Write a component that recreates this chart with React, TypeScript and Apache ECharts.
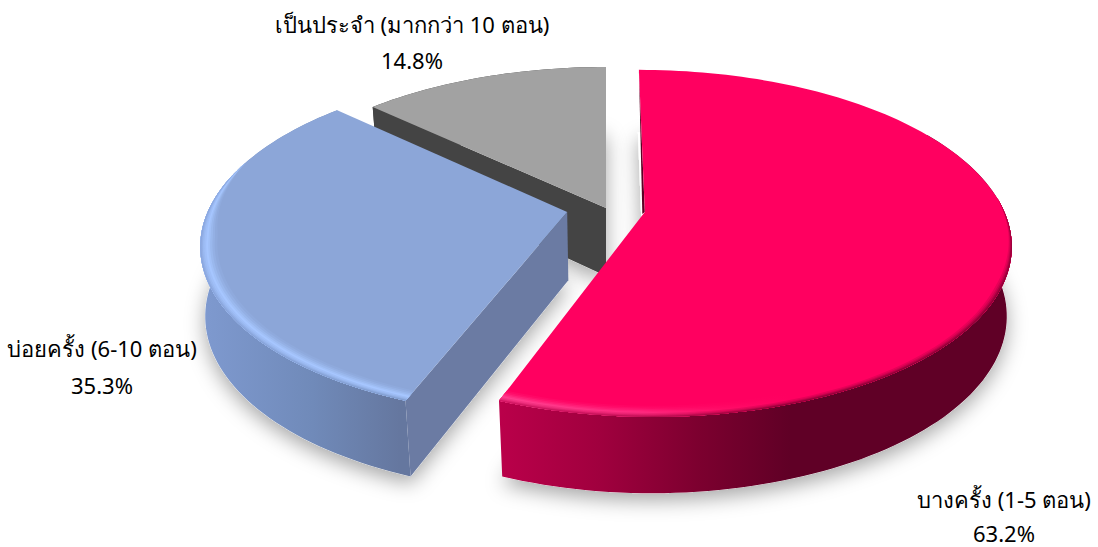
import React, { useEffect, useRef } from "react";
import * as echarts from "echarts";

const names = ["บางครั้ง (1-5 ตอน)", "บ่อยครั้ง (6-10 ตอน)", "เป็นประจำ (มากกว่า 10 ตอน)"];
const values = [63.2, 35.3, 14.8];

// --- layout of the perspective disk (not data) ---
const CX = 606, CY = 208, R = 358, RY = 166.4, K = 0.18;
const offsets = [[0.108, 0.024], [-0.108, 0.024], [0, 0]];
const labelPos = [[1004, 499, 533], [102, 348, 385], [412, 24, 60]];
const faceCol = ["#ff0060", "#8ca6d8", "#a2a2a2"];
const cutCol = ["#5c0024", "#6b7ba3", "#444444"];
const layer = [30, 20, 10];
const wallStops: [number, string][][] = [
  [[500, "#ba004a"], [600, "#a0003e"], [700, "#7c002f"], [790, "#600026"], [1011, "#600026"]],
  [[199, "#7f9ad0"], [313, "#708ab9"], [400, "#65779f"]],
  [[300, "#444444"], [606, "#444444"]],
];
const brightStops: [number, string][][] = [
  [[500, "#ff3f8f"], [640, "#ff2a80"], [720, "#ff0d68"], [790, "#ff0060"], [1011, "#ff0060"]],
  [[199, "#a6c6ff"], [400, "#a6c6ff"]],
  [[300, "#a2a2a2"], [606, "#a2a2a2"]],
];
const rimRange = [[85, 115], [288, 262], null];
const bandW = [0.045, 0.038, 0.032, 0.026, 0.021, 0.016, 0.011, 0.007, 0.0035];
const bandP = [0.12, 0.3, 0.55, 0.8, 1, 1.15, 1.3, 1.5, 1.7];

function project(u: number, v: number): number[] {
  const s = 1 / (1 - K * v);
  return [CX + R * u * s, CY + RY * v * s];
}
function rad(d: number) { return (d * Math.PI) / 180; }
function pointAt(i: number, deg: number, r: number) {
  const [ou, ov] = offsets[i];
  return project(ou + r * Math.sin(rad(deg)), ov - r * Math.cos(rad(deg)));
}
function arc(i: number, a: number, b: number, rf: (d: number) => number) {
  const n = Math.max(2, Math.ceil(Math.abs(b - a) / 1.5));
  const out: number[][] = [];
  for (let k = 0; k <= n; k++) {
    const d = a + ((b - a) * k) / n;
    out.push(pointAt(i, d, rf(d)));
  }
  return out;
}
function down(p: number[]) {
  const dx = p[0] - CX;
  const shift = Math.sign(dx) * Math.min(Math.abs(dx) * 0.03, 5);
  return [p[0] - shift, p[1] + 68 + (p[1] - CY) * 0.04];
}
function hex(c: string) { return [1, 3, 5].map((s) => parseInt(c.slice(s, s + 2), 16)); }
function mix(a: string, b: string, t: number) {
  const x = hex(a), y = hex(b);
  return "rgb(" + x.map((v, i) => Math.round(v + (y[i] - v) * t)).join(",") + ")";
}
function hgrad(stops: [number, string][]) {
  const x0 = stops[0][0], x1 = stops[stops.length - 1][0];
  return new (echarts.graphic as any).LinearGradient(
    x0, 0, x1, 0,
    stops.map(([x, c]) => ({ offset: (x - x0) / (x1 - x0), color: c })),
    true
  );
}

const total = values.reduce((a, b) => a + b, 0);

function renderItem(params: any) {
  const i = params.dataIndex;
  const before = values.slice(0, i).reduce((a, b) => a + b, 0);
  const a0 = (before / total) * 360;
  const a1 = ((before + values[i]) / total) * 360;
  const apex = pointAt(i, 0, 0);
  const outer = arc(i, a0, a1, () => 1);
  const z = layer[i];
  const children: any[] = [];

  // soft shadow cast by the underside
  children.push({
    type: "polygon", z2: 1,
    shape: { points: [down(apex), ...outer.map(down)] },
    style: { fill: "#ffffff", shadowBlur: 20, shadowColor: "rgba(0,0,0,0.35)", shadowOffsetY: 7 },
  });
  // curved wall (the back part of the first slice's arc is hidden, so it starts further round)
  const wallArc = i === 0 ? arc(i, a0 + 60, a1, () => 1) : outer;
  children.push({
    type: "polygon", z2: z,
    shape: { points: [...wallArc, ...wallArc.map(down).reverse()] },
    style: { fill: hgrad(wallStops[i]) },
  });
  // cut wall on the starting edge (only a thin sliver shows on the first slice)
  const p0 = outer[0];
  const cut = i === 0
    ? [apex, p0, [apex[0] - 2.5, apex[1] + 2]]
    : [apex, p0, down(p0), down(apex)];
  children.push({
    type: "polygon", z2: z + 1,
    shape: { points: cut },
    style: { fill: cutCol[i] },
  });
  // top face
  children.push({
    type: "polygon", z2: z + 2,
    shape: { points: [apex, ...outer] },
    style: { fill: faceCol[i] },
  });
  // bevelled rim along the visible part of the arc
  const rr = rimRange[i];
  if (rr) {
    const from = i === 0 ? rr[0] : a0;
    const to = i === 0 ? a1 : rr[0];
    const fade = (d: number) => Math.max(0, Math.min(1, (d - rr[0]) / (rr[1] - rr[0])));
    bandW.forEach((w, b) => {
      const p = bandP[b];
      const stops: [number, string][] = brightStops[i].map(([x, c], s) => {
        const wall = wallStops[i][Math.min(s, wallStops[i].length - 1)][1];
        return [x, p <= 1 ? mix(faceCol[i], c, p) : mix(c, wall, p - 1)] as [number, string];
      });
      const rim = arc(i, from, to, () => 1);
      const inner = arc(i, from, to, (d) => 1 - w * fade(d));
      children.push({
        type: "polygon", z2: z + 3 + b,
        shape: { points: [...rim, ...inner.reverse()] },
        style: { fill: hgrad(stops) },
      });
    });
  }
  // labels
  const [lx, ly1, ly2] = labelPos[i];
  const font = { fontFamily: "Tahoma, 'Noto Sans', 'Open Sans', sans-serif", fontSize: 22, fill: "#000000", align: "center", verticalAlign: "middle" };
  children.push({ type: "text", z2: 90, style: { ...font, text: names[i], x: lx, y: ly1 } });
  children.push({ type: "text", z2: 90, style: { ...font, text: values[i].toFixed(1) + "%", x: lx, y: ly2 } });
  return { type: "group", children };
}

export default function App() {
  const ref = useRef<HTMLDivElement>(null);
  useEffect(() => {
    document.body.style.margin = "0";
    const chart = echarts.init(ref.current!, null, { renderer: "svg" });
    chart.setOption({
      animation: false,
      backgroundColor: "#ffffff",
      series: [{
        type: "custom",
        coordinateSystem: "none",
        silent: true,
        renderItem,
        data: values.map((v, i) => ({ name: names[i], value: [v] })),
      }],
    });
    return () => chart.dispose();
  }, []);
  return <div ref={ref} style={{ width: 1098, height: 547 }} />;
}
